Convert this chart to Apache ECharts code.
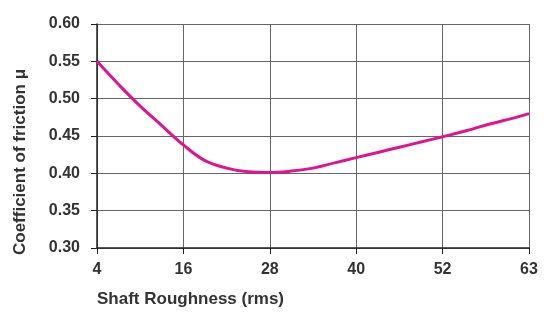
<!DOCTYPE html>
<html lang="en">
<head>
    <meta charset="UTF-8">
    <title>Coefficient of friction</title>
    <script src="https://cdn.jsdelivr.net/npm/echarts@6/dist/echarts.min.js"></script>
</head>
<body style="margin:0">
<div id="main" style="width:556px;height:314px;"></div>
<script>
// tick labels on the roughness axis (spaced evenly on the chart)
var xLabels = [4, 16, 28, 40, 52, 63];
// curve: shaft roughness (rms) and friction coefficient
var roughness = [4, 7, 10, 13, 16, 19, 22, 25, 28, 31, 34, 37, 40, 43, 46, 49, 52, 55, 58, 61, 63];
var friction = [0.550, 0.519, 0.490, 0.464, 0.438, 0.417, 0.407, 0.402, 0.401, 0.403, 0.407, 0.414, 0.421, 0.428, 0.435, 0.442, 0.449, 0.457, 0.466, 0.474, 0.480];

// axis position: each tick is one step of 12, the last step (52..63) is squeezed
function pos(r) {
    for (var i = 0; i < xLabels.length - 1; i++) {
        if (r <= xLabels[i + 1]) {
            return 12 * (i + (r - xLabels[i]) / (xLabels[i + 1] - xLabels[i]));
        }
    }
    return 60;
}

var points = roughness.map(function (r, i) { return [pos(r), friction[i]]; });

var font = 'Liberation Sans, Arial, sans-serif';
var textColor = '#333';
var myChart = echarts.init(document.getElementById('main'));

var option = {
    animation: false,
    backgroundColor: '#fff',
    grid: { left: 97, right: 27, top: 24, bottom: 66 },
    xAxis: {
        type: 'value',
        min: 0,
        max: 60,
        interval: 12,
        axisLine: { lineStyle: { color: '#222', width: 1.5 } },
        axisTick: { show: true, inside: false, length: 6, lineStyle: { color: '#222' } },
        axisLabel: {
            margin: 14,
            color: textColor,
            fontFamily: font,
            fontSize: 16,
            fontWeight: 'bold',
            formatter: function (v) { return xLabels[Math.round(v / 12)]; }
        },
        splitLine: { show: true, lineStyle: { color: '#666', width: 1 } }
    },
    yAxis: {
        type: 'value',
        min: 0.3,
        max: 0.6,
        interval: 0.05,
        axisLine: { show: true, lineStyle: { color: '#222', width: 1.5 } },
        axisTick: { show: true, inside: false, length: 6, lineStyle: { color: '#222' } },
        axisLabel: {
            margin: 17,
            color: textColor,
            fontFamily: font,
            fontSize: 16,
            fontWeight: 'bold',
            formatter: function (v) { return v.toFixed(2); }
        },
        splitLine: { show: true, lineStyle: { color: '#666', width: 1 } }
    },
    graphic: [{
        type: 'text',
        x: 97,
        y: 299,
        style: {
            text: 'Shaft Roughness (rms)',
            fill: textColor,
            font: 'bold 17px ' + font,
            textVerticalAlign: 'middle'
        }
    }, {
        type: 'text',
        x: 20,
        y: 162,
        rotation: Math.PI / 2,
        style: {
            text: 'Coefficient of friction μ',
            fill: textColor,
            font: 'bold 17px ' + font,
            textAlign: 'center',
            textVerticalAlign: 'middle'
        }
    }],
    series: [{
        type: 'line',
        data: points,
        smooth: 0.4,
        showSymbol: false,
        lineStyle: { color: '#e0148c', width: 3 }
    }]
};

myChart.setOption(option);
</script>
</body>
</html>
